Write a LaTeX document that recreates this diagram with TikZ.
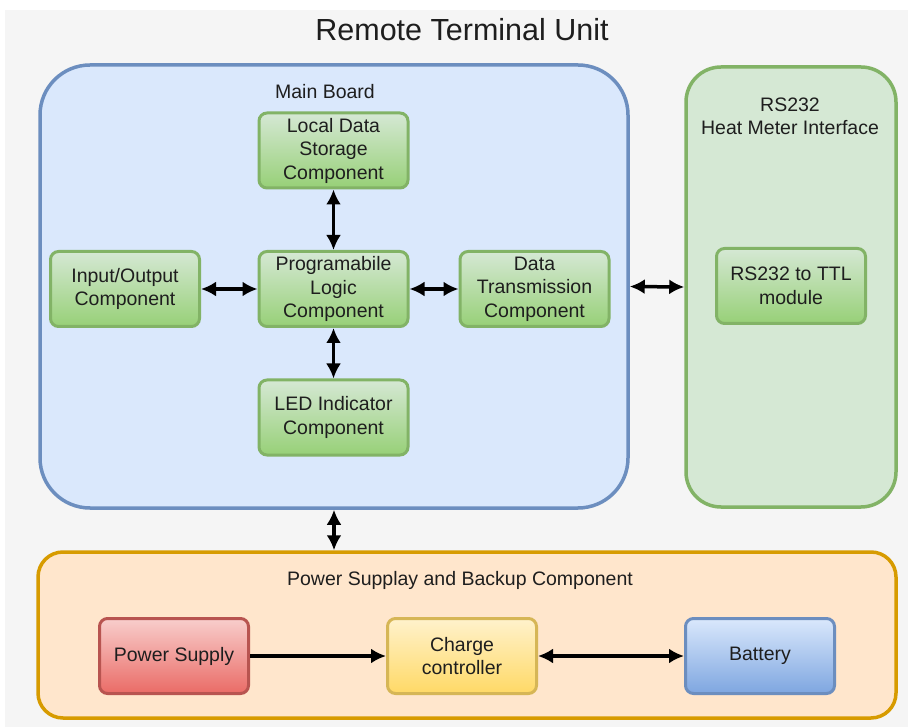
\documentclass[tikz,border=0pt]{standalone}
\usepackage{fontspec}
\setmainfont{Liberation Sans}
\usetikzlibrary{arrows.meta}

\definecolor{bggray}{HTML}{F5F5F5}
\definecolor{txtcol}{HTML}{1E1E1E}
\definecolor{blufill}{HTML}{DAE8FC}
\definecolor{bluline}{HTML}{6C8EBF}
\definecolor{blubot}{HTML}{7EA6E0}
\definecolor{grnfill}{HTML}{D5E8D4}
\definecolor{grnline}{HTML}{82B366}
\definecolor{grnbot}{HTML}{97D077}
\definecolor{orgfill}{HTML}{FFE6CC}
\definecolor{orgline}{HTML}{D79B00}
\definecolor{redtop}{HTML}{F8CECC}
\definecolor{redbot}{HTML}{EA6B66}
\definecolor{redline}{HTML}{B85450}
\definecolor{yeltop}{HTML}{FFF2CC}
\definecolor{yelbot}{HTML}{FFD966}
\definecolor{yelline}{HTML}{D6B656}

\begin{document}
\begin{tikzpicture}[x=1pt, y=-1pt,
  every node/.style={font=\fontsize{19.5}{23.5}\selectfont, text=txtcol, align=center, inner sep=0pt},
  board/.style={line width=3.5pt},
  comp/.style={draw=grnline, line width=3pt, rounded corners=8pt,
    top color=grnfill, bottom color=grnbot,
    minimum width=149pt, minimum height=75pt},
  link/.style={line width=3.5pt, {Latex[length=15pt,width=15pt]}-{Latex[length=15pt,width=15pt]}},
  feed/.style={line width=3.5pt, -{Latex[length=15pt,width=15pt]}}]
  % background and page size
  \fill[bggray] (5,10) rectangle (908,727);
  \useasboundingbox (0,0) rectangle (908,727);
  \node[font=\fontsize{30.5}{36}\selectfont] (title) at (462,30) {Remote Terminal Unit};
  % containers
  \node[board, draw=bluline, fill=blufill, rounded corners=50pt,
    minimum width=588pt, minimum height=443pt] (mainboard) at (334,286.5) {};
  \node[board, draw=grnline, fill=grnfill, rounded corners=35pt,
    minimum width=210pt, minimum height=440pt] (rsbox) at (791,287) {};
  \node[board, draw=orgline, fill=orgfill, rounded corners=25pt,
    minimum width=858pt, minimum height=166pt] (powerbox) at (467,635) {};
  \node (mainlbl) at (325,92) {Main Board};
  \node (rslbl) at (790,116.5) {RS232\\Heat Meter Interface};
  \node (powerlbl) at (460,580) {Power Supplay and Backup Component};
  % main board parts
  \node[comp] (storage) at (333.5,150.5) {Local Data\\Storage\\Component};
  \node[comp] (io) at (125,289) {Input/Output\\Component};
  \node[comp] (logic) at (333.5,289) {Programabile\\Logic\\Component};
  \node[comp] (trans) at (534.5,289) {Data\\Transmission\\Component};
  \node[comp] (led) at (333.5,417.5) {LED Indicator\\Component};
  % interface part
  \node[comp] (ttl) at (791,286) {RS232 to TTL\\module};
  % power parts
  \node[comp, draw=redline, top color=redtop, bottom color=redbot] (psu) at (174,656) {Power Supply};
  \node[comp, draw=yelline, top color=yeltop, bottom color=yelbot] (charger) at (462,656) {Charge\\controller};
  \node[comp, draw=bluline, top color=blufill, bottom color=blubot] (battery) at (760,656) {Battery};
  % links
  \draw[link] (logic) -- (storage);
  \draw[link] (logic) -- (led);
  \draw[link] (io) -- (logic);
  \draw[link] (logic) -- (trans);
  \draw[link] (mainboard.east) -- (rsbox.west);
  \draw[link] (mainboard.south) -- (mainboard.south |- powerbox.north);
  \draw[feed] (psu) -- (charger);
  \draw[link] (charger) -- (battery);
\end{tikzpicture}
\end{document}
